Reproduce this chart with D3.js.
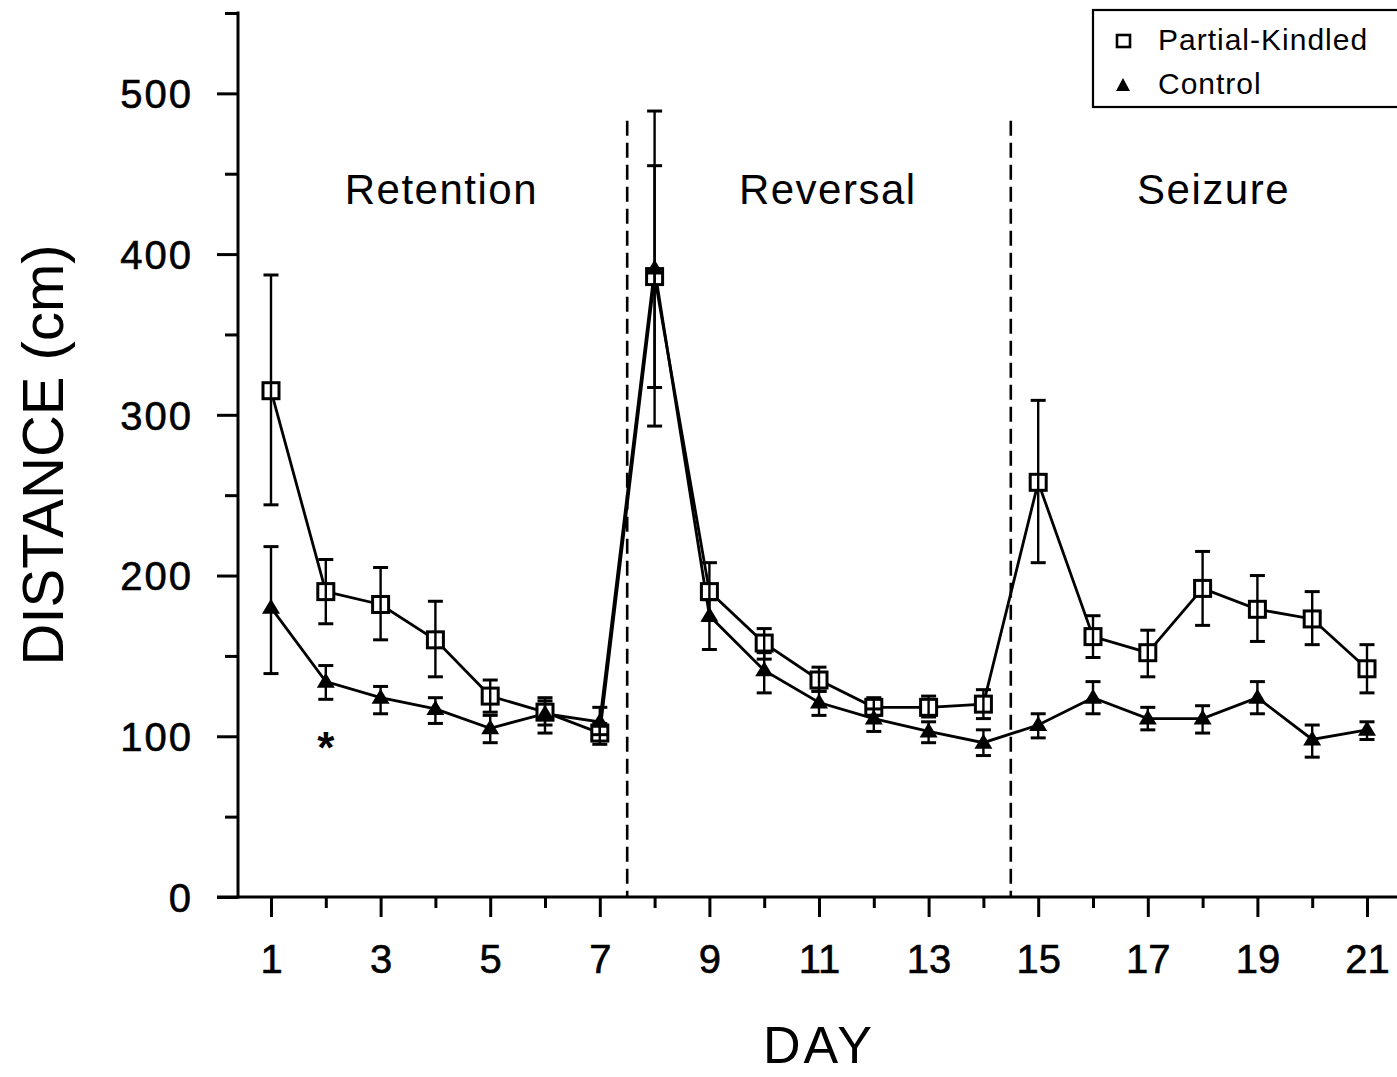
<!DOCTYPE html>
<html>
<head>
<meta charset="utf-8">
<script src="https://cdn.jsdelivr.net/npm/d3@7"></script>
<style>
  html, body { margin: 0; padding: 0; background: #fff; }
  svg { display: block; }
  text { font-family: "Liberation Sans", Arial, Helvetica, sans-serif; fill: #000; }
</style>
</head>
<body>
<svg id="chart" width="1397" height="1077"></svg>
<script>
// ---------------- data ----------------
const days = [1,2,3,4,5,6,7,8,9,10,11,12,13,14,15,16,17,18,19,20,21];

const pkMean  = [315,190,182,160,125,115,102,386,190,158,135,118,118,120,258,162,152,192,179,173,142];
const pkUpper = [387,210,205,184,135,124,108,489,208,167,143,124,125,129,309,175,166,215,200,190,157];
const pkLower = [244,170,160,137,115,107, 95,293,172,148,128,113,112,111,208,149,137,169,159,157,127];

const ctMean  = [180,134,124,117,105,114,109,391,175,141,121,111,103, 96,107,124,111,111,124, 98,104];
const ctUpper = [218,144,131,124,113,122,118,455,185,152,128,117,109,104,114,134,118,119,134,107,109];
const ctLower = [139,123,114,108, 96,102,101,317,154,127,113,103, 96, 88, 99,114,104,102,114, 87, 98];

const xTickLabels = [1,3,5,7,9,11,13,15,17,19,21];
const xMinorTicks = [2,4,6,8,10,12,14,16,18,20];
const yTickLabels = [0,100,200,300,400,500];
const yMinorTicks = [50,150,250,350,450,550];

const phaseBreaks = [7.5, 14.5];
const phaseBreakTop = 483;
const phaseNames = ["Retention", "Reversal", "Seizure"];
const phaseCenters = [4.11, 11.16, 18.2];
const phaseLabelValue = 431;

const seriesNames = ["Partial-Kindled", "Control"];
const asterisk = { day: 2, value: 97 };

// ---------------- layout ----------------
const svg = d3.select("#chart");
const W = 1397;
const yAxisX = 238;
const xAxisY = 897;

const x = d3.scaleLinear().domain([1, 21]).range([271, 1367]);
const y = d3.scaleLinear().domain([0, 550]).range([xAxisY, 13]);

const pk = days.map((d, i) => ({ day: d, mean: pkMean[i], hi: pkUpper[i], lo: pkLower[i] }));
const ct = days.map((d, i) => ({ day: d, mean: ctMean[i], hi: ctUpper[i], lo: ctLower[i] }));

// ---------------- axes ----------------
const axisStroke = 3;

const yMinor = svg.append("g").attr("transform", `translate(${yAxisX},0)`)
  .call(d3.axisLeft(y).tickValues(yMinorTicks).tickSize(13).tickFormat("").tickSizeOuter(0));
const yMajor = svg.append("g").attr("transform", `translate(${yAxisX},0)`)
  .call(d3.axisLeft(y).tickValues(yTickLabels).tickSize(21).tickPadding(24).tickSizeOuter(0));
[yMinor, yMajor].forEach(g => {
  g.selectAll("path.domain").remove();
  g.selectAll("line").attr("stroke", "#000").attr("stroke-width", axisStroke);
});
yMajor.selectAll("text")
  .style("font-size", "40px").attr("dy", "0.36em").attr("letter-spacing", "2px")
  .attr("stroke", "#000").attr("stroke-width", 0.6);

svg.append("line")
  .attr("x1", yAxisX).attr("x2", yAxisX)
  .attr("y1", y(550) - 1.5).attr("y2", xAxisY + 1.5)
  .attr("stroke", "#000").attr("stroke-width", axisStroke);

const xMinor = svg.append("g").attr("transform", `translate(0,${xAxisY})`)
  .call(d3.axisBottom(x).tickValues(xMinorTicks).tickSize(11).tickFormat("").tickSizeOuter(0));
const xMajor = svg.append("g").attr("transform", `translate(0,${xAxisY})`)
  .call(d3.axisBottom(x).tickValues(xTickLabels).tickSize(20).tickPadding(28).tickSizeOuter(0));
[xMinor, xMajor].forEach(g => {
  g.selectAll("path.domain").remove();
  g.selectAll("line").attr("stroke", "#000").attr("stroke-width", axisStroke);
});
xMajor.selectAll("text").style("font-size", "40px").attr("dy", "0.71em")
  .attr("stroke", "#000").attr("stroke-width", 0.6);

svg.append("line")
  .attr("x1", yAxisX - 21).attr("x2", W)
  .attr("y1", xAxisY).attr("y2", xAxisY)
  .attr("stroke", "#000").attr("stroke-width", axisStroke);

// axis titles
svg.append("text")
  .attr("transform", `translate(63,${y(275)}) rotate(-90)`)
  .attr("text-anchor", "middle")
  .style("font-size", "58px")
  .text("DISTANCE (cm)");

svg.append("text")
  .attr("x", x(11)).attr("y", 1063)
  .attr("text-anchor", "middle")
  .style("font-size", "52px").attr("letter-spacing", "3px")
  .text("DAY");

// ---------------- phase separators ----------------
svg.selectAll("line.phase").data(phaseBreaks).join("line")
  .attr("class", "phase")
  .attr("x1", d => x(d)).attr("x2", d => x(d))
  .attr("y1", y(phaseBreakTop)).attr("y2", xAxisY)
  .attr("stroke", "#000").attr("stroke-width", 2.6)
  .attr("stroke-dasharray", "15,7");

svg.selectAll("text.phase").data(phaseNames).join("text")
  .attr("class", "phase")
  .attr("x", (d, i) => x(phaseCenters[i]))
  .attr("y", y(phaseLabelValue))
  .attr("text-anchor", "middle")
  .style("font-size", "42px").attr("letter-spacing", "1.5px")
  .text(d => d);

// ---------------- series ----------------
const line = d3.line().x(d => x(d.day)).y(d => y(d.mean));

svg.append("path").datum(pk).attr("d", line)
  .attr("fill", "none").attr("stroke", "#000").attr("stroke-width", 2.8);
svg.append("path").datum(ct).attr("d", line)
  .attr("fill", "none").attr("stroke", "#000").attr("stroke-width", 2.8);

const sq = 16;
svg.selectAll("rect.pk").data(pk).join("rect")
  .attr("class", "pk")
  .attr("x", d => x(d.day) - sq / 2).attr("y", d => y(d.mean) - sq / 2)
  .attr("width", sq).attr("height", sq)
  .attr("fill", "#fff").attr("stroke", "#000").attr("stroke-width", 3);

function errorBars(data, cls) {
  const g = svg.append("g").attr("class", cls);
  const capW = 15;
  g.selectAll("line.v").data(data).join("line")
    .attr("class", "v")
    .attr("x1", d => x(d.day)).attr("x2", d => x(d.day))
    .attr("y1", d => y(d.hi)).attr("y2", d => y(d.lo))
    .attr("stroke", "#000").attr("stroke-width", 2.4);
  g.selectAll("line.hi").data(data).join("line")
    .attr("x1", d => x(d.day) - capW / 2).attr("x2", d => x(d.day) + capW / 2)
    .attr("y1", d => y(d.hi)).attr("y2", d => y(d.hi))
    .attr("stroke", "#000").attr("stroke-width", 3);
  g.selectAll("line.lo").data(data).join("line")
    .attr("x1", d => x(d.day) - capW / 2).attr("x2", d => x(d.day) + capW / 2)
    .attr("y1", d => y(d.lo)).attr("y2", d => y(d.lo))
    .attr("stroke", "#000").attr("stroke-width", 3);
}
errorBars(pk, "errPK");
errorBars(ct, "errCT");

const triW = 18, triH = 15;
const triPath = `M0,${-triH * 0.6}L${triW / 2},${triH * 0.4}L${-triW / 2},${triH * 0.4}Z`;
svg.selectAll("path.ct").data(ct).join("path")
  .attr("class", "ct")
  .attr("transform", d => `translate(${x(d.day)},${y(d.mean)})`)
  .attr("d", triPath).attr("fill", "#000");

svg.append("text")
  .attr("x", x(asterisk.day)).attr("y", y(asterisk.value) + 22)
  .attr("text-anchor", "middle")
  .style("font-size", "44px").style("font-weight", "bold")
  .text("*");

// ---------------- legend ----------------
const lg = svg.append("g");
lg.append("rect")
  .attr("x", 1093).attr("y", 10).attr("width", 320).attr("height", 97)
  .attr("fill", "#fff").attr("stroke", "#000").attr("stroke-width", 2.2);
lg.append("rect")
  .attr("x", 1117).attr("y", 35).attr("width", 13).attr("height", 12)
  .attr("fill", "#fff").attr("stroke", "#000").attr("stroke-width", 2.6);
lg.append("path")
  .attr("transform", "translate(1123,85)")
  .attr("d", `M0,-7L7,6L-7,6Z`).attr("fill", "#000");
lg.selectAll("text").data(seriesNames).join("text")
  .attr("x", 1158).attr("y", (d, i) => 50 + i * 44)
  .style("font-size", "30px").attr("letter-spacing", "1px")
  .text(d => d);
</script>
</body>
</html>
